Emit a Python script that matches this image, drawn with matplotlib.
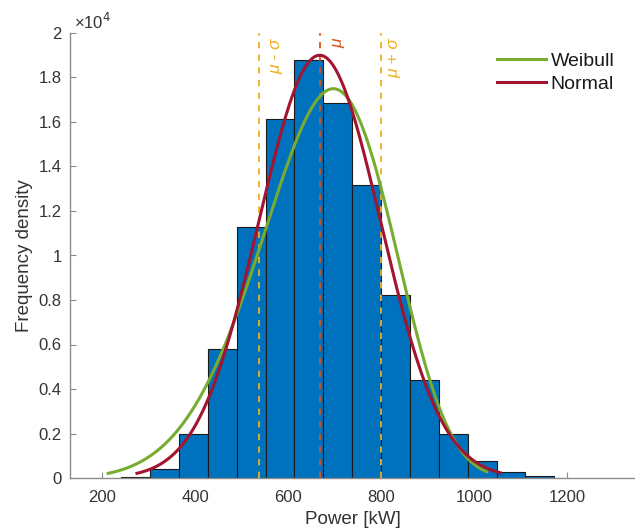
import numpy as np
import matplotlib
matplotlib.use("Agg")
import matplotlib.pyplot as plt
from matplotlib.ticker import FuncFormatter

plt.rcParams['font.family'] = ['Liberation Sans', 'DejaVu Sans']

# ---- data ----
bin_start = 241.0          # kW, left edge of first bin
bin_width = 62.1           # kW
bar_heights = [0.003, 0.04, 0.20, 0.58, 1.13, 1.613, 1.879, 1.685, 1.317,
               0.822, 0.44, 0.20, 0.076, 0.026, 0.008]   # x 1e4
mu = 668.0                 # kW
sigma = 131.0              # kW
normal_peak = 1.90         # x 1e4
normal_range = (275, 1056)
weib_k = 5.42
weib_lambda = 724.0
weib_range = (213, 1027)
x_ticks = [200, 400, 600, 800, 1000, 1200]
y_ticks = [0, 0.2, 0.4, 0.6, 0.8, 1.0, 1.2, 1.4, 1.6, 1.8, 2.0]

scale_y = 1e4
heights = np.array(bar_heights) * scale_y
lefts = bin_start + bin_width * np.arange(len(bar_heights))

# fitted curves scaled to frequency density
scale = normal_peak * scale_y * sigma * np.sqrt(2 * np.pi)
xn = np.linspace(*normal_range, 400)
yn = scale / (sigma * np.sqrt(2 * np.pi)) * np.exp(-0.5 * ((xn - mu) / sigma) ** 2)
xw = np.linspace(*weib_range, 400)
yw = scale * (weib_k / weib_lambda) * (xw / weib_lambda) ** (weib_k - 1) * np.exp(-(xw / weib_lambda) ** weib_k)

fig = plt.figure(figsize=(6.35, 5.3), dpi=100)
ax = fig.add_axes([70/635, 52/530, 565/635, 445/530])

ax.bar(lefts, heights, width=bin_width, align='edge', color='#0072BD',
       edgecolor='#1a1a1a', linewidth=0.8, zorder=2)

ax.axvline(mu - sigma, color='#EDB120', ls=(0, (3.5, 3.5)), lw=1.3, zorder=3)
ax.axvline(mu, color='#D95319', ls=(0, (3.5, 3.5)), lw=1.3, zorder=3)
ax.axvline(mu + sigma, color='#EDB120', ls=(0, (3.5, 3.5)), lw=1.3, zorder=3)

ax.plot(xw, yw, color='#77AC30', lw=2.2, label='Weibull', zorder=4)
ax.plot(xn, yn, color='#A2142F', lw=2.2, label='Normal', zorder=5)

ty = 1.975 * scale_y
ax.text(mu - sigma + 37, ty, 'μ - σ', rotation=90, color='#EDB120', fontsize=12.5,
        style='italic', ha='center', va='top')
ax.text(mu + 40, ty, 'μ', rotation=90, color='#D95319', fontsize=12.5,
        style='italic', ha='center', va='top')
ax.text(mu + sigma + 28, ty, 'μ + σ', rotation=90, color='#EDB120', fontsize=12.5,
        style='italic', ha='center', va='top')

ax.set_xlim(131, 1346)
ax.set_ylim(0, 2.0 * scale_y)
ax.set_xticks(x_ticks)
ax.set_yticks([v * scale_y for v in y_ticks])
ax.yaxis.set_major_formatter(FuncFormatter(lambda v, p: '%g' % (v / scale_y)))

for s in ['top', 'right']:
    ax.spines[s].set_visible(False)
for s in ['left', 'bottom']:
    ax.spines[s].set_color('#8c8c8c')
    ax.spines[s].set_linewidth(1.0)
ax.tick_params(direction='in', length=4, width=0.8, color='#8c8c8c',
               labelcolor='#333333', labelsize=12, pad=6)
ax.tick_params(axis='x', pad=9)

ax.set_xlabel('Power [kW]', fontsize=13.5, color='#333333', labelpad=4)
ax.set_ylabel('Frequency density', fontsize=13.5, color='#333333', labelpad=4)

fig.text(74/635, 1 - 22/530, '×10$^{4}$', fontsize=12, color='#333333',
         ha='left', va='center')

leg = ax.legend(loc='upper left', bbox_to_anchor=(497/635, 1 - 52/530),
                bbox_transform=fig.transFigure, frameon=False, fontsize=14,
                handlelength=2.5, handletextpad=0.25, labelspacing=0.28,
                borderaxespad=0, borderpad=0)
for t in leg.get_texts():
    t.set_color('#1a1a1a')

fig.savefig('out.png', dpi=100)
